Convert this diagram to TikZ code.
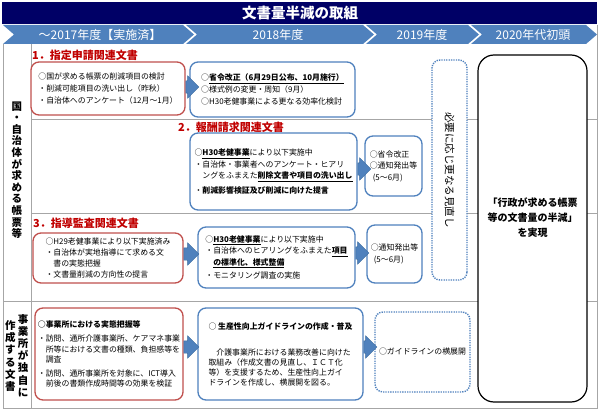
\documentclass[tikz,border=0pt]{standalone}
\usepackage{fontspec}
\setmainfont{Noto Sans CJK JP}
\usetikzlibrary{shapes.arrows}
\definecolor{navy}{HTML}{000066}
\definecolor{barblue}{HTML}{4F81BD}
\definecolor{boxblue}{HTML}{4F81BD}
\definecolor{boxred}{HTML}{C0504D}
\definecolor{titlered}{HTML}{C00000}
\definecolor{linegray}{HTML}{A6A6A6}
\definecolor{arrline}{HTML}{3A6A9E}
\newcommand{\fsz}[2]{\fontsize{#1}{#2}\selectfont}
\begin{document}
\begin{tikzpicture}[x=1pt,y=-1pt,
  txt/.style={font=\fsz{7.9}{11.5}, align=left},
  redbox/.style={txt, draw=boxred, line width=1.3pt, rounded corners=8pt, fill=white, inner sep=0pt},
  bluebox/.style={txt, draw=boxblue, line width=1.3pt, rounded corners=8pt, fill=white, inner sep=0pt},
  dotbox/.style={txt, draw=boxblue, line width=1.4pt, dash pattern=on 1.3pt off 1.1pt, rounded corners=8pt, fill=white, inner sep=0pt},
  stagetitle/.style={anchor=west, inner sep=0pt, text=titlered, font=\bfseries\fsz{11}{12}},
  rowlabel/.style={align=center, inner sep=0pt, font=\bfseries\fsz{10.5}{11.6}},
  barrow/.style={single arrow, fill=barblue, draw=arrline, line width=0.4pt, anchor=tail, minimum width=22pt, minimum height=#1, inner xsep=0pt, inner ysep=6pt, single arrow head extend=5pt},
  barrow/.default=13,
  rowline/.style={linegray, line width=0.8pt}]
\useasboundingbox (0,0) rectangle (600,412);
%GRID
\draw [rowline] (3,44) -- (3,408) -- (597,408) -- (597,25);
\draw [rowline] (31,44) -- (31,408);
\draw [rowline] (31,119) -- (597,119);
\draw [rowline] (31,213) -- (597,213);
\draw [rowline] (3,301) -- (597,301);
%TITLE BAR
\fill [navy] (2,2) rectangle (597,24);
\node [text=white, font=\bfseries\fsz{14.5}{16}] (title) at (300,13) {文書量半減の取組};
%YEAR CHEVRONS
\foreach \xa/\xb/\xt/\yr in {3/183/100/～2017年度【実施済】, 186/363/278/2018年度, 366/468/422/2019年度, 471/586/533/2020年代初頭} {
  \fill [barblue] (\xa,25) -- (\xb,25) -- (\xb+11,34.5) -- (\xb,44) -- (\xa,44) -- (\xa+11,34.5) -- cycle;
  \node [text=white, font=\fsz{12}{13}] (yr\xa) at (\xt,34.5) {\yr};
}
%ROW LABELS
\node [rowlabel] (govLbl) at (17,170) {国\\・\\自\\治\\体\\が\\求\\め\\る\\帳\\票\\等};
\node [rowlabel, font=\bfseries\fsz{10.5}{12.2}] (ownLbl) at (23,355.5) {事\\業\\所\\が\\独\\自\\に};
\node [rowlabel, font=\bfseries\fsz{10.5}{12.2}] (makeLbl) at (10.5,356) {作\\成\\す\\る\\文\\書};
%SECTION TITLES
\node [stagetitle] (s1) at (32,55) {1．指定申請関連文書};
\node [stagetitle] (s2) at (178,127) {2．報酬請求関連文書};
\node [stagetitle] (s3) at (33,223) {3．指導監査関連文書};
%ROW 1
\node [redbox, minimum width=154, minimum height=53, font=\fsz{7.9}{12}] (req) at (108,88.5) {○国が求める帳票の削減項目の検討\\・削減可能項目の洗い出し（昨秋）\\・自治体へのアンケート（12月～1月）};
\node [bluebox, minimum width=165, minimum height=55, font=\fsz{7.9}{12}] (upd) at (272.5,89.5) {○\underline{\textbf{省令改正（6月29日公布、10月施行）}}\\○様式例の変更・周知（9月）\\○H30老健事業による更なる効率化検討};
%ROW 2
\node [bluebox, minimum width=167, minimum height=77] (fee) at (273.5,171.5) {○\underline{\textbf{H30老健事業}}により以下実施中\\・自治体・事業者へのアンケート・ヒアリ\\　ングをふまえた\underline{\textbf{削除文書や項目の洗い出し}}\\[3pt]・\textbf{削減影響検証及び削減に向けた提言}};
\node [bluebox, minimum width=57, minimum height=60] (feeNote) at (393.5,166) {○省令改正\\○通知発出等\\\hspace*{3pt}(5～6月)};
%ROW 3
\node [redbox, minimum width=150, minimum height=50, font=\fsz{7.9}{11.2}] (audit) at (108,258) {○H29老健事業により以下実施済み\\・自治体が実地指導にて求める文\\　書の実態把握\\・文書量削減の方向性の提言};
\node [bluebox, minimum width=157, minimum height=61] (auditNext) at (276.5,257.5) {○\underline{\textbf{H30老健事業}}により以下実施中\\・自治体へのヒアリングをふまえた\underline{\textbf{項目}}\\　\underline{\textbf{の標準化、様式整備}}\\[2pt]・モニタリング調査の実施};
\node [bluebox, minimum width=55, minimum height=58] (auditNote) at (394.5,254) {○通知発出等\\\hspace*{3pt}(5～6月)};
%ROW 4
\node [redbox, minimum width=148, minimum height=92, font=\fsz{7.9}{10.5}] (office) at (109,354) {\textbf{○事業所における実態把握等}\\[4pt]・訪問、通所介護事業所、ケアマネ事業\\　所等における文書の種類、負担感等を\\　調査\\[3pt]・訪問、通所事業所を対象に、ICT導入\\　前後の書類作成時間等の効果を検証};
\node [bluebox, minimum width=165, minimum height=92, font=\fsz{7.9}{10}] (guide) at (280.5,354) {○ \textbf{生産性向上ガイドラインの作成・普及}\\[16pt]　介護事業所における業務改善に向けた\\取組み（作成文書の見直し、ＩＣＴ化\\等）を支援するため、生産性向上ガイ\\ドラインを作成し、横展開を図る。};
\node [dotbox, minimum width=95, minimum height=80] (spread) at (422.5,352) {○ガイドラインの横展開};
%RIGHT COLUMNS
\node [dotbox, rotate=-90, minimum width=220, minimum height=35, font=\fsz{10.5}{12}] (review) at (449.5,170) {必要に応じ更なる見直し};
\node [draw, line width=1.2pt, rounded corners=16pt, fill=white, minimum width=109, minimum height=347] (goal) at (532.5,228.5) {};
\node [align=center, font=\bfseries\fsz{10}{15}] (goalTxt) at (532.5,218) {「行政が求める帳票\\等の文書量の半減」\\を実現};
%BLOCK ARROWS
\node [barrow, yshift=1.5pt] (a1) at (req.east) {};
\node [barrow, yshift=2.5pt] (a2) at (fee.east) {};
\node [barrow=15, yshift=4pt] (a3) at (audit.east) {};
\node [barrow, yshift=4.5pt] (a4) at (auditNext.east) {};
\node [barrow=15, yshift=7pt] (a5) at (office.east) {};
\node [barrow, yshift=7pt] (a6) at (guide.east) {};
\end{tikzpicture}
\end{document}
